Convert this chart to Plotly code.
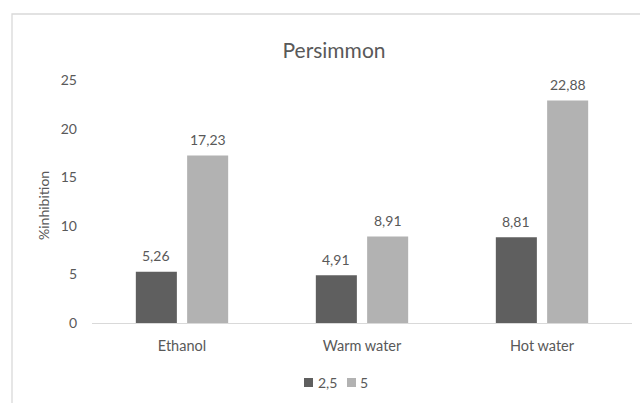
import plotly.graph_objects as go

categories = ["Ethanol", "Warm water", "Hot water"]
series_names = ["2,5", "5"]
values_25 = [5.26, 4.91, 8.81]
values_5 = [17.23, 8.91, 22.88]
y_ticks = [0, 5, 10, 15, 20, 25]

colors = ["#5f5f5f", "#b2b2b2"]
font_family = "Lato, Open Sans, sans-serif"
text_color = "#595959"

L, R, T, B = 92, 8, 80, 80
W, H = 640, 403
plot_w = W - L - R
plot_h = H - T - B


def fmt(v):
    return f"{v:.2f}".replace(".", ",")


def px_x(px):
    return (px - L) / plot_w


def px_y(py):
    return (T + plot_h - py) / plot_h


fig = go.Figure()
for name, vals, col in zip(series_names, [values_25, values_5], colors):
    fig.add_trace(go.Bar(
        x=categories, y=vals, name=name,
        marker=dict(color=col, line=dict(width=0)),
        hoverinfo="skip", showlegend=False,
    ))

# value labels above each bar
cat_w = plot_w / len(categories)
bargap, groupgap = 0.43, 0.2
slot = cat_w * (1 - bargap) / 2
for i, vals in enumerate([values_25, values_5]):
    offset = (i - 0.5) * slot
    for c, v in zip(categories, vals):
        fig.add_annotation(
            x=c, y=v, text=fmt(v), showarrow=False,
            xshift=offset, yshift=16, yanchor="middle",
            font=dict(size=14, color=text_color, family=font_family),
        )

# y-axis title
fig.add_annotation(
    x=px_x(43), y=px_y(206), xref="paper", yref="paper",
    xanchor="center", yanchor="middle",
    text="%inhibition", textangle=-90, showarrow=False,
    font=dict(size=14, color=text_color, family=font_family),
)

# legend: swatch + label per series
legend_items = [(304, 316), (347, 358)]
for (sx, tx), name, col in zip(legend_items, series_names, colors):
    fig.add_shape(
        type="rect", xref="paper", yref="paper",
        x0=px_x(sx), x1=px_x(sx + 9), y0=px_y(387), y1=px_y(378),
        fillcolor=col, line=dict(width=0),
    )
    fig.add_annotation(
        x=px_x(tx), y=px_y(382), xref="paper", yref="paper",
        xanchor="left", yanchor="middle", text=name, showarrow=False,
        font=dict(size=14, color=text_color, family=font_family),
    )

# chart frame
fig.add_shape(
    type="rect", xref="paper", yref="paper",
    x0=px_x(12), x1=px_x(W + 10), y0=px_y(H + 10), y1=px_y(14),
    line=dict(color="#d9d9d9", width=1.3), layer="below",
)

fig.update_layout(
    width=W, height=H,
    margin=dict(l=L, r=R, t=T, b=B, autoexpand=False),
    paper_bgcolor="white", plot_bgcolor="white",
    barmode="group", bargap=bargap, bargroupgap=groupgap,
    title=dict(
        text="Persimmon", x=px_x(334), xref="paper", xanchor="center",
        y=1 - 51 / H, yanchor="middle",
        font=dict(size=21, color=text_color, family=font_family),
    ),
    font=dict(family=font_family, color=text_color, size=14),
    showlegend=False,
    xaxis=dict(
        showgrid=False, showline=True, linecolor="#d9d9d9", linewidth=1.3,
        ticks="", ticklabelstandoff=9, zeroline=False,
        tickfont=dict(size=14.5, color=text_color, family=font_family),
        fixedrange=True,
    ),
    yaxis=dict(
        range=[0, 25], tickvals=y_ticks, showgrid=False, zeroline=False,
        showline=False, ticks="", ticklabelstandoff=14,
        tickfont=dict(size=14, color=text_color, family=font_family),
        fixedrange=True,
    ),
)

fig.write_html("out.html")
